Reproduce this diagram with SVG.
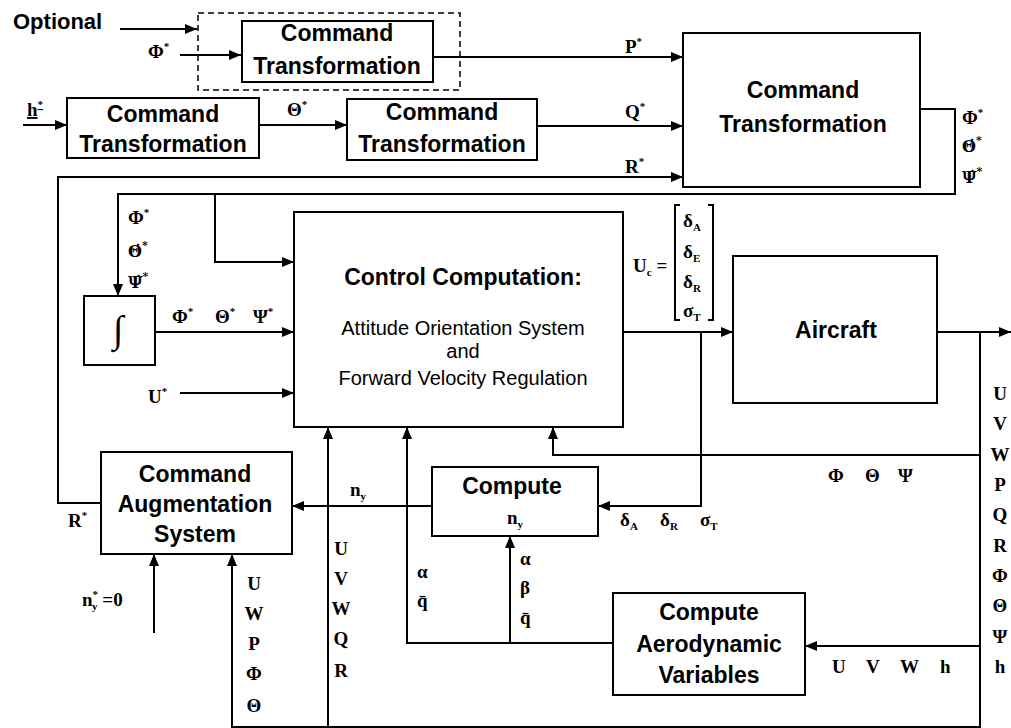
<svg xmlns="http://www.w3.org/2000/svg" width="1011" height="728" viewBox="0 0 1011 728">
<defs>
<marker id="ah" markerUnits="userSpaceOnUse" markerWidth="12" markerHeight="10" refX="12" refY="5" orient="auto"><path d="M0,0L12,5L0,10z" fill="#000"/></marker>
<style>
.box{fill:#fff;stroke:#000;stroke-width:2}
.ln{fill:none;stroke:#000;stroke-width:2}
.arr{marker-end:url(#ah)}
.t{font-family:"Liberation Sans",Arial,sans-serif;font-weight:bold;font-size:23px;text-anchor:middle;fill:#000}
.r{font-family:"Liberation Sans",Arial,sans-serif;font-size:20px;text-anchor:middle;fill:#000}
.m{font-family:"Liberation Serif","DejaVu Serif",serif;font-weight:bold;font-size:19px;fill:#000}
.dv{font-family:"DejaVu Serif",serif;font-weight:bold;font-size:16px;fill:#000}
.s{font-size:11px}
</style>
</defs>
<rect width="1011" height="728" fill="#fff"/>

<g id="connectors">
<path class="ln arr" d="M120,29H197"/>
<path class="ln arr" d="M180,55H241"/>
<path class="ln arr" d="M433,57H683"/>
<path class="ln arr" d="M23,125H67"/>
<path class="ln arr" d="M259,125H347"/>
<path class="ln arr" d="M537,126H683"/>
<path class="ln arr" d="M101,503H58V177H683"/>
<path class="ln arr" d="M920,109H955V194H118V296"/>
<path class="ln arr" d="M215,194V262H294"/>
<path class="ln arr" d="M155,332H294"/>
<path class="ln arr" d="M180,393H294"/>
<path class="ln arr" d="M623,332H733"/>
<path class="ln arr" d="M701,332V506H598"/>
<path class="ln arr" d="M937,332H1011"/>
<path class="ln" d="M980,332V728"/>
<path class="ln arr" d="M980,455H553V427"/>
<path class="ln arr" d="M980,646H805"/>
<path class="ln arr" d="M613,643H407V427"/>
<path class="ln arr" d="M510,643V536"/>
<path class="ln arr" d="M432,506H292"/>
<path class="ln arr" d="M154,633V554"/>
<path class="ln arr" d="M980,727H232V554"/>
<path class="ln arr" d="M328,727V427"/>
<path d="M680,205H675V320H680M708,205H713V320H708" class="ln"/>
</g>

<g id="optional">
<rect x="198" y="13" width="262" height="77" fill="none" stroke="#000" stroke-width="1.5" stroke-dasharray="6,4"/>
<text x="13" y="29" style="font-family:'Liberation Sans',Arial,sans-serif;font-weight:bold;font-size:22px">Optional</text>
</g>

<g id="ct1">
<rect class="box" x="242" y="21" width="191" height="61"/>
<text class="t" x="337" y="41">Command</text>
<text class="t" x="337" y="74">Transformation</text>
</g>

<g id="ct2">
<rect class="box" x="67" y="98" width="192" height="60"/>
<text class="t" x="163" y="122">Command</text>
<text class="t" x="163" y="152">Transformation</text>
</g>

<g id="ct3">
<rect class="box" x="347" y="99" width="190" height="61"/>
<text class="t" x="442" y="120">Command</text>
<text class="t" x="442" y="152">Transformation</text>
</g>

<g id="ct-main">
<rect class="box" x="683" y="33" width="237" height="154"/>
<text class="t" x="803" y="98">Command</text>
<text class="t" x="803" y="132">Transformation</text>
</g>

<g id="integrator">
<rect class="box" x="84" y="296" width="71" height="69"/>
<text x="118" y="342" style="font-family:'Liberation Serif','DejaVu Serif',serif;font-size:38px;text-anchor:middle">∫</text>
</g>

<g id="control">
<rect class="box" x="294" y="212" width="329" height="215"/>
<text class="t" x="463" y="285">Control Computation:</text>
<text class="r" x="463" y="335">Attitude Orientation System</text>
<text class="r" x="463" y="358">and</text>
<text class="r" x="463" y="385">Forward Velocity Regulation</text>
</g>

<g id="aircraft">
<rect class="box" x="733" y="256" width="204" height="147"/>
<text class="t" x="836" y="338">Aircraft</text>
</g>

<g id="cas">
<rect class="box" x="101" y="452" width="191" height="102"/>
<text class="t" x="195" y="482">Command</text>
<text class="t" x="195" y="512">Augmentation</text>
<text class="t" x="195" y="542">System</text>
</g>

<g id="compute-ny">
<rect class="box" x="432" y="467" width="166" height="69"/>
<text class="t" x="512" y="494">Compute</text>
<text class="m" x="507" y="524">n<tspan class="s" dy="4">y</tspan></text>
</g>

<g id="aero">
<rect class="box" x="613" y="593" width="192" height="102"/>
<text class="t" x="709" y="620">Compute</text>
<text class="t" x="709" y="652">Aerodynamic</text>
<text class="t" x="709" y="683">Variables</text>
</g>

<g id="labels">
<text class="m" x="148" y="58">Φ<tspan class="s" dy="-8">*</tspan></text>
<text class="m" x="625" y="53">P<tspan class="s" dy="-8">*</tspan></text>
<text class="m" x="625" y="118">Q<tspan class="s" dy="-8">*</tspan></text>
<text class="m" x="625" y="173">R<tspan class="s" dy="-8">*</tspan></text>
<text class="m" x="27" y="116" text-decoration="underline">h<tspan class="s" dy="-8">*</tspan></text>
<text class="m" x="287" y="116">Θ<tspan class="s" dy="-8">*</tspan></text>
<text class="m" x="962" y="124">Φ<tspan class="s" dy="-8">*</tspan></text>
<text class="dv" x="962" y="152">Θ̇<tspan class="s" dy="-8">*</tspan></text>
<text class="dv" x="962" y="183">Ψ̇<tspan class="s" dy="-8">*</tspan></text>
<text class="m" x="128" y="224">Φ<tspan class="s" dy="-8">*</tspan></text>
<text class="dv" x="128" y="257">Θ̇<tspan class="s" dy="-8">*</tspan></text>
<text class="dv" x="128" y="288">Ψ̇<tspan class="s" dy="-8">*</tspan></text>
<text class="m" x="172" y="323">Φ<tspan class="s" dy="-8">*</tspan></text>
<text class="m" x="215" y="323">Θ<tspan class="s" dy="-8">*</tspan></text>
<text class="m" x="253" y="323">Ψ<tspan class="s" dy="-8">*</tspan></text>
<text class="m" x="148" y="403">U<tspan class="s" dy="-8">*</tspan></text>
<text class="m" x="633" y="272">U<tspan class="s" dy="4">c</tspan><tspan dy="-4"> =</tspan></text>
<text class="m" x="683" y="227">δ<tspan class="s" dy="4">A</tspan></text>
<text class="m" x="683" y="258">δ<tspan class="s" dy="4">E</tspan></text>
<text class="m" x="683" y="288">δ<tspan class="s" dy="4">R</tspan></text>
<text class="m" x="683" y="317">σ<tspan class="s" dy="4">T</tspan></text>
<text class="m" x="620" y="526">δ<tspan class="s" dy="4">A</tspan></text>
<text class="m" x="660" y="526">δ<tspan class="s" dy="4">R</tspan></text>
<text class="m" x="700" y="526">σ<tspan class="s" dy="4">T</tspan></text>
<text class="m" x="828" y="482">Φ</text>
<text class="m" x="865" y="482">Θ</text>
<text class="m" x="898" y="482">Ψ</text>
<g class="m" text-anchor="middle">
<text x="1000" y="400">U</text>
<text x="1000" y="430">V</text>
<text x="1000" y="461">W</text>
<text x="1000" y="491">P</text>
<text x="1000" y="521">Q</text>
<text x="1000" y="552">R</text>
<text x="1000" y="582">Φ</text>
<text x="1000" y="612">Θ</text>
<text x="1000" y="643">Ψ</text>
<text x="1000" y="673">h</text>
</g>
<text class="m" x="832" y="673">U</text>
<text class="m" x="866" y="673">V</text>
<text class="m" x="900" y="673">W</text>
<text class="m" x="940" y="673">h</text>
<text class="m" x="417" y="578">α</text>
<text class="m" x="417" y="607">q̄</text>
<text class="m" x="520" y="565">α</text>
<text class="m" x="520" y="594">β</text>
<text class="m" x="520" y="624">q̄</text>
<text class="m" x="350" y="496">n<tspan class="s" dy="4">y</tspan></text>
<g class="m" text-anchor="middle">
<text x="254" y="590">U</text>
<text x="254" y="620">W</text>
<text x="254" y="650">P</text>
<text x="254" y="680">Φ</text>
<text x="254" y="712">Θ</text>
<text x="341" y="555">U</text>
<text x="341" y="585">V</text>
<text x="341" y="615">W</text>
<text x="341" y="645">Q</text>
<text x="341" y="677">R</text>
</g>
<text class="m" x="68" y="527">R<tspan class="s" dy="-8">*</tspan></text>
<text class="m" x="82" y="606">n<tspan class="s" dy="-8">*</tspan><tspan class="s" dx="-6" dy="12">y</tspan><tspan dy="-4"> =0</tspan></text>
</g>
</svg>
